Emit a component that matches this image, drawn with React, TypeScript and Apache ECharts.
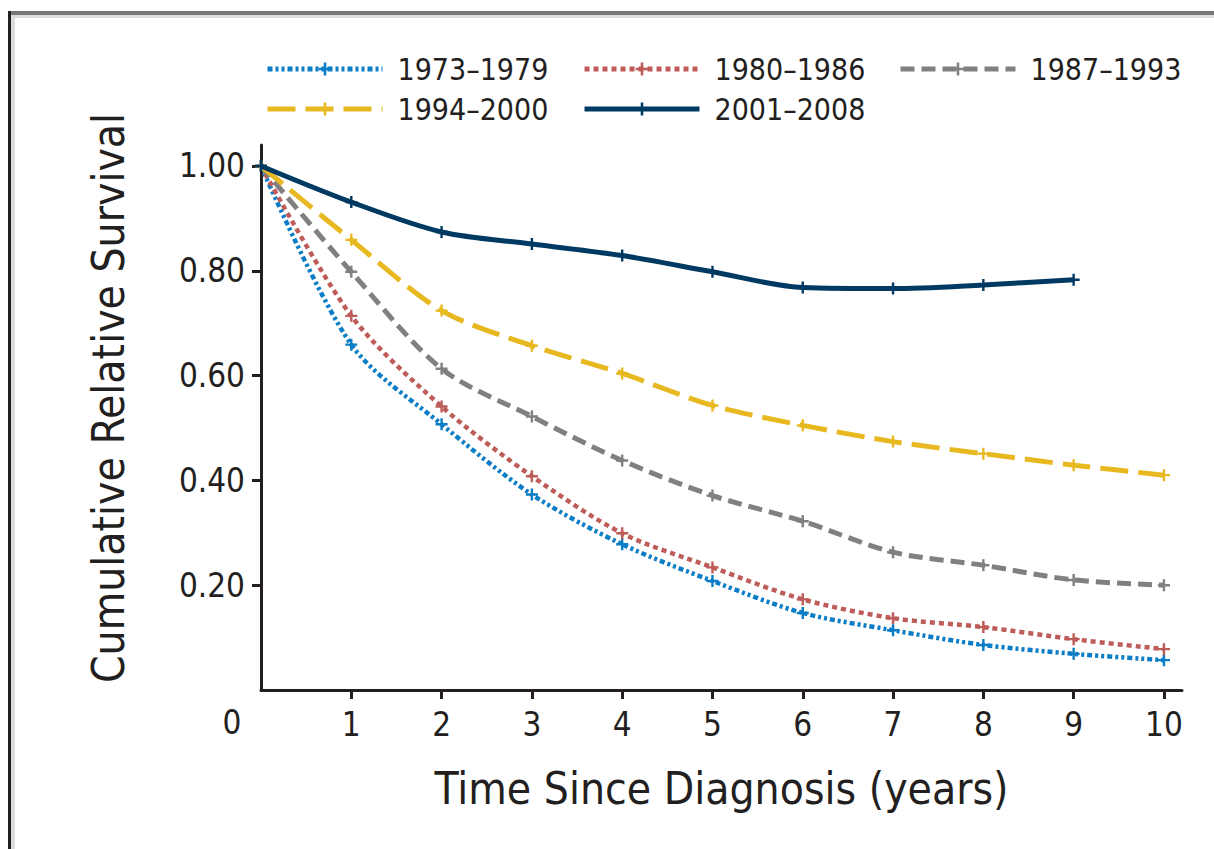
import React, { useEffect, useRef } from "react";
import * as echarts from "echarts";

const years = [0, 1, 2, 3, 4, 5, 6, 7, 8, 9, 10];
const seriesNames = ["1973–1979", "1980–1986", "1987–1993", "1994–2000", "2001–2008"];
const s1973 = [1.0, 0.659, 0.507, 0.373, 0.278, 0.208, 0.147, 0.114, 0.086, 0.069, 0.057];
const s1980 = [1.0, 0.714, 0.541, 0.408, 0.299, 0.234, 0.173, 0.137, 0.12, 0.097, 0.078];
const s1987 = [1.0, 0.798, 0.613, 0.522, 0.438, 0.371, 0.322, 0.263, 0.238, 0.21, 0.2];
const s1994 = [1.0, 0.859, 0.724, 0.657, 0.604, 0.543, 0.505, 0.474, 0.451, 0.429, 0.41];
const s2001 = [1.0, 0.931, 0.874, 0.851, 0.829, 0.798, 0.768, 0.766, 0.773, 0.783];
const xTicks = [1, 2, 3, 4, 5, 6, 7, 8, 9, 10];
const yTicks = [0.2, 0.4, 0.6, 0.8, 1.0];

const FONT = "'Liberation Sans Narrow', 'Arial Narrow', 'DejaVu Sans Condensed', sans-serif";
const INK = "#231f20";
const PLUS = "path://M4,0 H6 V4 H10 V6 H6 V10 H4 V6 H0 V4 H4 Z";

const styles = [
  { color: "#0a7dc6", type: [5, 3, 3, 3, 3, 3], width: 4.5 },
  { color: "#bd5c58", type: [5, 4], width: 4.5 },
  { color: "#808080", type: [14, 7], width: 5 },
  { color: "#e8b820", type: [28, 10], width: 5 },
  { color: "#003a63", type: "solid", width: 5 },
];
const allData = [s1973, s1980, s1987, s1994, s2001];
const legendPos = [
  { left: 265, top: 54 },
  { left: 582, top: 54 },
  { left: 898, top: 54 },
  { left: 265, top: 94 },
  { left: 582, top: 94 },
];

export default function App() {
  const ref = useRef<HTMLDivElement>(null);
  useEffect(() => {
    const chart = echarts.init(ref.current!, null, { renderer: "svg" });
    chart.setOption({
      animation: false,
      backgroundColor: "#ffffff",
      grid: { left: 261, top: 145, right: 32, bottom: 159, containLabel: false },
      legend: seriesNames.map((n, i) => ({
        data: [n],
        left: legendPos[i].left,
        top: legendPos[i].top,
        itemWidth: 115,
        itemHeight: 16,
        padding: 0,
        lineStyle: { width: 5 },
        textStyle: { fontFamily: FONT, fontSize: 30, color: INK, padding: [0, 0, 0, 10] },
      })),
      xAxis: {
        type: "value",
        min: 0,
        max: 10.2,
        interval: 1,
        name: "Time Since Diagnosis (years)",
        nameLocation: "middle",
        nameGap: 76,
        nameTextStyle: { fontFamily: FONT, fontSize: 44, color: INK },
        axisLine: { show: true, lineStyle: { color: INK, width: 3 } },
        axisTick: { show: true, length: 9, lineStyle: { color: INK, width: 3 }, customValues: xTicks },
        axisLabel: {
          fontFamily: FONT,
          fontSize: 33,
          color: INK,
          margin: 18,
          customValues: xTicks,
          formatter: (v: number) => String(v),
        },
        splitLine: { show: false },
      },
      yAxis: {
        type: "value",
        min: 0,
        max: 1.04,
        interval: 0.2,
        axisLine: { show: true, lineStyle: { color: INK, width: 3 } },
        axisTick: { show: true, length: 9, lineStyle: { color: INK, width: 3 }, customValues: yTicks },
        axisLabel: {
          fontFamily: FONT,
          fontSize: 33,
          color: INK,
          margin: 16,
          customValues: yTicks,
          formatter: (v: number) => v.toFixed(2),
        },
        splitLine: { show: false },
      },
      graphic: [
        { type: "rect", shape: { x: 8, y: 11, width: 1206, height: 4 }, style: { fill: "#777777" } },
        { type: "rect", shape: { x: 11, y: 15, width: 1203, height: 3 }, style: { fill: "#dcdcdc" } },
        { type: "rect", shape: { x: 8, y: 11, width: 3, height: 838 }, style: { fill: INK } },
        { type: "rect", shape: { x: 11, y: 15, width: 4, height: 834 }, style: { fill: "#dcdcdc" } },
        {
          type: "text",
          x: 232,
          y: 722,
          style: { text: "0", fontFamily: FONT, fontSize: 33, fill: INK, align: "center", verticalAlign: "middle" },
        },
        {
          type: "text",
          x: 108,
          y: 398,
          rotation: Math.PI / 2,
          style: {
            text: "Cumulative Relative Survival",
            fontFamily: FONT,
            fontSize: 44,
            fill: INK,
            align: "center",
            verticalAlign: "middle",
          },
        },
      ],
      series: seriesNames.map((n, i) => ({
        name: n,
        type: "line",
        data: allData[i].map((v, j) => [years[j], v]),
        smooth: 0.3,
        symbol: PLUS,
        symbolSize: 12,
        showSymbol: true,
        itemStyle: { color: styles[i].color },
        lineStyle: { color: styles[i].color, width: styles[i].width, type: styles[i].type as any },
        z: 2 + i,
      })),
    });
    return () => chart.dispose();
  }, []);
  return (
    <div
      ref={ref}
      style={{ position: "fixed", left: 0, top: 0, width: 1214, height: 849 }}
    />
  );
}
